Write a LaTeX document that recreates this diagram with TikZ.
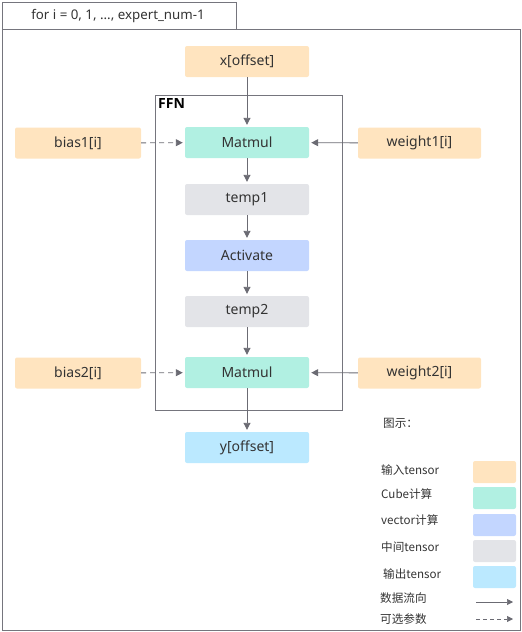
\documentclass[tikz,border=0pt]{standalone}
\usepackage{fontspec}
\setmainfont{Noto Sans}
\newfontfamily\cjk{Noto Sans CJK SC}
\newfontfamily\boldf{Open Sans}
\usetikzlibrary{arrows.meta}
\definecolor{cin}{HTML}{FFE4BF}
\definecolor{ccube}{HTML}{B1F0E2}
\definecolor{cvec}{HTML}{C3D6FF}
\definecolor{cmid}{HTML}{E3E4E8}
\definecolor{cout}{HTML}{BBE9FF}
\definecolor{cline}{HTML}{6B6B73}
\definecolor{cframe}{HTML}{75757D}
\definecolor{ctext}{HTML}{333333}
\tikzset{
  blk/.style={rounded corners=2pt, minimum width=124pt, minimum height=31pt, inner sep=0pt, font=\fontsize{14}{16}\selectfont, text=ctext},
  swatch/.style={rounded corners=2pt, minimum width=43pt, minimum height=22pt, inner sep=0pt},
  flow/.style={draw=cline, line width=0.9pt, -{Triangle[length=7pt,width=7pt]}, shorten >=2pt},
  opt/.style={flow, dashed, dash pattern=on 5pt off 4pt},
  lgd/.style={anchor=west, font=\cjk\fontsize{11.6}{13}\selectfont, text=ctext, inner sep=0pt},
}
\begin{document}
\begin{tikzpicture}[x=1pt,y=-1pt]
\useasboundingbox (0,0) rectangle (522,632);
% outer frames
\draw[cframe, line width=0.9pt] (2,29) rectangle (520,630);
\draw[cframe, line width=0.9pt, fill=white] (2,2) rectangle (236,29);
\node[font=\fontsize{13.3}{15}\selectfont, text=ctext] (loop) at (118,16) {for i = 0, 1, ..., expert\_num-1};
% FFN frame
\draw[cframe, line width=0.9pt] (155,95) rectangle (342,410);
\node[anchor=north west, inner sep=0pt, font=\boldf\bfseries\fontsize{14}{16}\selectfont, text=black] (ffn) at (158,98.5) {FFN};
% blocks
\node[blk, fill=cin] (x) at (247,61.5) {x[offset]};
\node[blk, fill=ccube] (m1) at (247,142.5) {Matmul};
\node[blk, fill=cin, minimum width=126pt] (b1) at (78,143) {bias1[i]};
\node[blk, fill=cin, minimum width=123pt] (w1) at (419.5,143) {weight1[i]};
\node[blk, fill=cmid] (t1) at (247,199.5) {temp1};
\node[blk, fill=cvec] (act) at (247,255.5) {Activate};
\node[blk, fill=cmid] (t2) at (247,311.5) {temp2};
\node[blk, fill=ccube] (m2) at (247,372.5) {Matmul};
\node[blk, fill=cin, minimum width=126pt] (b2) at (78,373) {bias2[i]};
\node[blk, fill=cin, minimum width=123pt] (w2) at (419.5,373) {weight2[i]};
\node[blk, fill=cout] (y) at (247,447.5) {y[offset]};
% connectors
\draw[flow] (x) -- (m1);
\draw[flow] (m1) -- (t1);
\draw[flow] (t1) -- (act);
\draw[flow] (act) -- (t2);
\draw[flow] (t2) -- (m2);
\draw[flow] (m2) -- (y);
\draw[opt] (b1) -- (m1);
\draw[flow] (w1) -- (m1);
\draw[opt] (b2) -- (m2);
\draw[flow] (w2) -- (m2);
% legend
\node[lgd] (lt) at (383,423) {图示：};
\node[lgd] (l1) at (381,470) {输入tensor};
\node[swatch, fill=cin] (s1) at (494.5,472) {};
\node[lgd] (l2) at (381,494) {Cube计算};
\node[swatch, fill=ccube] (s2) at (494.5,498) {};
\node[lgd] (l3) at (381,520) {vector计算};
\node[swatch, fill=cvec] (s3) at (494.5,525) {};
\node[lgd] (l4) at (381,547) {中间tensor};
\node[swatch, fill=cmid] (s4) at (494.5,551) {};
\node[lgd] (l5) at (383,574) {输出tensor};
\node[swatch, fill=cout] (s5) at (494.5,577) {};
\node[lgd] (l6) at (380,598) {数据流向};
\node[lgd] (l7) at (380,619) {可选参数};
\coordinate (a1) at (476,602);
\coordinate (a2) at (513,602);
\coordinate (d1) at (476,619);
\coordinate (d2) at (513,619);
\draw[flow, line width=0.6pt, shorten >=0pt, -{Triangle[length=6pt,width=6pt]}] (a1) -- (a2);
\draw[opt, line width=0.6pt, shorten >=0pt, dash pattern=on 4pt off 3pt, -{Triangle[length=6pt,width=6pt]}] (d1) -- (d2);
\end{tikzpicture}
\end{document}
